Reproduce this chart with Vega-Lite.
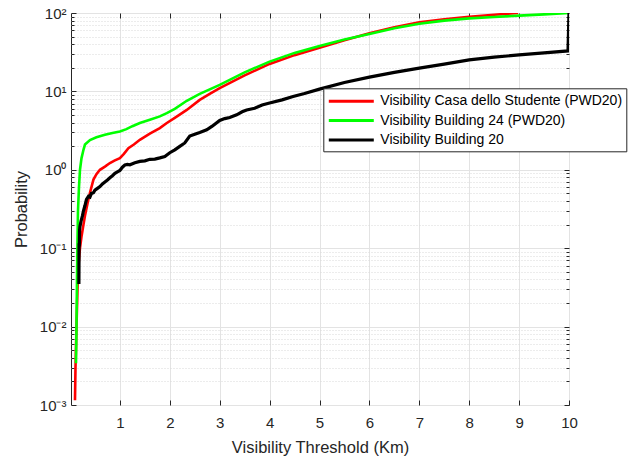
{
  "$schema": "https://vega.github.io/schema/vega-lite/v6.json",
  "width": 498,
  "height": 392,
  "autosize": {"type": "none"},
  "padding": {"left": 71, "top": 13, "right": 70, "bottom": 52},
  "background": "white",
  "config": {
    "font": "Liberation Sans",
    "view": {"stroke": "#262626", "strokeWidth": 1},
    "axis": {
      "domain": false,
      "labelColor": "#262626",
      "titleColor": "#262626",
      "tickColor": "#262626",
      "labelFont": "Liberation Sans",
      "titleFont": "Liberation Sans",
      "titleFontWeight": "normal",
      "labelFontSize": 15,
      "titleFontSize": 16.5
    },
    "legend": {
      "orient": "none",
      "legendX": 252.3,
      "legendY": 75.3,
      "strokeColor": "#262626",
      "fillColor": "white",
      "padding": 4,
      "symbolType": "M-1,0H5",
      "symbolSize": 225,
      "symbolStrokeWidth": 3,
      "symbolFillColor": "transparent",
      "labelFontSize": 14,
      "labelFont": "Liberation Sans",
      "labelColor": "#000000",
      "labelOffset": 35,
      "rowPadding": 3.3,
      "labelLimit": 400,
      "title": null
    }
  },
  "data": {
    "values": [
      {"s": "Visibility Casa dello Studente (PWD20)", "x": 0.10, "y": 0.00115},
      {"s": "Visibility Casa dello Studente (PWD20)", "x": 0.11, "y": 0.003},
      {"s": "Visibility Casa dello Studente (PWD20)", "x": 0.13, "y": 0.01},
      {"s": "Visibility Casa dello Studente (PWD20)", "x": 0.15, "y": 0.03},
      {"s": "Visibility Casa dello Studente (PWD20)", "x": 0.17, "y": 0.06},
      {"s": "Visibility Casa dello Studente (PWD20)", "x": 0.2, "y": 0.1},
      {"s": "Visibility Casa dello Studente (PWD20)", "x": 0.23, "y": 0.14},
      {"s": "Visibility Casa dello Studente (PWD20)", "x": 0.27, "y": 0.2},
      {"s": "Visibility Casa dello Studente (PWD20)", "x": 0.3, "y": 0.26},
      {"s": "Visibility Casa dello Studente (PWD20)", "x": 0.35, "y": 0.37},
      {"s": "Visibility Casa dello Studente (PWD20)", "x": 0.4, "y": 0.51},
      {"s": "Visibility Casa dello Studente (PWD20)", "x": 0.47, "y": 0.75},
      {"s": "Visibility Casa dello Studente (PWD20)", "x": 0.53, "y": 0.88},
      {"s": "Visibility Casa dello Studente (PWD20)", "x": 0.6, "y": 1.0},
      {"s": "Visibility Casa dello Studente (PWD20)", "x": 0.7, "y": 1.1},
      {"s": "Visibility Casa dello Studente (PWD20)", "x": 0.8, "y": 1.22},
      {"s": "Visibility Casa dello Studente (PWD20)", "x": 0.9, "y": 1.32},
      {"s": "Visibility Casa dello Studente (PWD20)", "x": 1.0, "y": 1.41},
      {"s": "Visibility Casa dello Studente (PWD20)", "x": 1.08, "y": 1.6},
      {"s": "Visibility Casa dello Studente (PWD20)", "x": 1.17, "y": 1.89},
      {"s": "Visibility Casa dello Studente (PWD20)", "x": 1.28, "y": 2.1},
      {"s": "Visibility Casa dello Studente (PWD20)", "x": 1.4, "y": 2.41},
      {"s": "Visibility Casa dello Studente (PWD20)", "x": 1.6, "y": 2.9},
      {"s": "Visibility Casa dello Studente (PWD20)", "x": 1.8, "y": 3.4},
      {"s": "Visibility Casa dello Studente (PWD20)", "x": 1.94, "y": 3.95},
      {"s": "Visibility Casa dello Studente (PWD20)", "x": 2.1, "y": 4.6},
      {"s": "Visibility Casa dello Studente (PWD20)", "x": 2.34, "y": 5.8},
      {"s": "Visibility Casa dello Studente (PWD20)", "x": 2.6, "y": 7.8},
      {"s": "Visibility Casa dello Studente (PWD20)", "x": 2.8, "y": 9.3},
      {"s": "Visibility Casa dello Studente (PWD20)", "x": 3.0, "y": 11},
      {"s": "Visibility Casa dello Studente (PWD20)", "x": 3.5, "y": 16},
      {"s": "Visibility Casa dello Studente (PWD20)", "x": 4.0, "y": 22.4},
      {"s": "Visibility Casa dello Studente (PWD20)", "x": 4.5, "y": 29},
      {"s": "Visibility Casa dello Studente (PWD20)", "x": 5.0, "y": 36},
      {"s": "Visibility Casa dello Studente (PWD20)", "x": 5.5, "y": 45},
      {"s": "Visibility Casa dello Studente (PWD20)", "x": 6.0, "y": 55},
      {"s": "Visibility Casa dello Studente (PWD20)", "x": 6.5, "y": 66},
      {"s": "Visibility Casa dello Studente (PWD20)", "x": 7.0, "y": 76},
      {"s": "Visibility Casa dello Studente (PWD20)", "x": 7.5, "y": 83},
      {"s": "Visibility Casa dello Studente (PWD20)", "x": 8.0, "y": 89.7},
      {"s": "Visibility Casa dello Studente (PWD20)", "x": 8.5, "y": 95},
      {"s": "Visibility Casa dello Studente (PWD20)", "x": 8.98, "y": 100},

      {"s": "Visibility Building 24 (PWD20)", "x": 0.12, "y": 0.0034},
      {"s": "Visibility Building 24 (PWD20)", "x": 0.13, "y": 0.01},
      {"s": "Visibility Building 24 (PWD20)", "x": 0.14, "y": 0.04},
      {"s": "Visibility Building 24 (PWD20)", "x": 0.15, "y": 0.12},
      {"s": "Visibility Building 24 (PWD20)", "x": 0.16, "y": 0.3},
      {"s": "Visibility Building 24 (PWD20)", "x": 0.18, "y": 0.6},
      {"s": "Visibility Building 24 (PWD20)", "x": 0.2, "y": 1.0},
      {"s": "Visibility Building 24 (PWD20)", "x": 0.23, "y": 1.4},
      {"s": "Visibility Building 24 (PWD20)", "x": 0.27, "y": 1.8},
      {"s": "Visibility Building 24 (PWD20)", "x": 0.3, "y": 2.1},
      {"s": "Visibility Building 24 (PWD20)", "x": 0.4, "y": 2.4},
      {"s": "Visibility Building 24 (PWD20)", "x": 0.53, "y": 2.6},
      {"s": "Visibility Building 24 (PWD20)", "x": 0.7, "y": 2.8},
      {"s": "Visibility Building 24 (PWD20)", "x": 0.85, "y": 2.95},
      {"s": "Visibility Building 24 (PWD20)", "x": 1.0, "y": 3.08},
      {"s": "Visibility Building 24 (PWD20)", "x": 1.13, "y": 3.3},
      {"s": "Visibility Building 24 (PWD20)", "x": 1.25, "y": 3.6},
      {"s": "Visibility Building 24 (PWD20)", "x": 1.4, "y": 3.95},
      {"s": "Visibility Building 24 (PWD20)", "x": 1.6, "y": 4.35},
      {"s": "Visibility Building 24 (PWD20)", "x": 1.8, "y": 4.8},
      {"s": "Visibility Building 24 (PWD20)", "x": 1.94, "y": 5.29},
      {"s": "Visibility Building 24 (PWD20)", "x": 2.1, "y": 6.0},
      {"s": "Visibility Building 24 (PWD20)", "x": 2.34, "y": 7.6},
      {"s": "Visibility Building 24 (PWD20)", "x": 2.6, "y": 9.3},
      {"s": "Visibility Building 24 (PWD20)", "x": 3.0, "y": 12.1},
      {"s": "Visibility Building 24 (PWD20)", "x": 3.5, "y": 17.5},
      {"s": "Visibility Building 24 (PWD20)", "x": 4.0, "y": 24},
      {"s": "Visibility Building 24 (PWD20)", "x": 4.5, "y": 31},
      {"s": "Visibility Building 24 (PWD20)", "x": 5.0, "y": 38},
      {"s": "Visibility Building 24 (PWD20)", "x": 5.5, "y": 46},
      {"s": "Visibility Building 24 (PWD20)", "x": 6.0, "y": 54},
      {"s": "Visibility Building 24 (PWD20)", "x": 6.5, "y": 64},
      {"s": "Visibility Building 24 (PWD20)", "x": 7.0, "y": 73},
      {"s": "Visibility Building 24 (PWD20)", "x": 7.5, "y": 80},
      {"s": "Visibility Building 24 (PWD20)", "x": 8.0, "y": 85.5},
      {"s": "Visibility Building 24 (PWD20)", "x": 8.5, "y": 89},
      {"s": "Visibility Building 24 (PWD20)", "x": 9.0, "y": 92.5},
      {"s": "Visibility Building 24 (PWD20)", "x": 9.5, "y": 96},
      {"s": "Visibility Building 24 (PWD20)", "x": 10.0, "y": 100},

      {"s": "Visibility Building 20", "x": 0.178, "y": 0.035},
      {"s": "Visibility Building 20", "x": 0.182, "y": 0.11},
      {"s": "Visibility Building 20", "x": 0.188, "y": 0.11},
      {"s": "Visibility Building 20", "x": 0.192, "y": 0.17},
      {"s": "Visibility Building 20", "x": 0.2, "y": 0.19},
      {"s": "Visibility Building 20", "x": 0.22, "y": 0.22},
      {"s": "Visibility Building 20", "x": 0.25, "y": 0.26},
      {"s": "Visibility Building 20", "x": 0.27, "y": 0.3},
      {"s": "Visibility Building 20", "x": 0.3, "y": 0.35},
      {"s": "Visibility Building 20", "x": 0.33, "y": 0.42},
      {"s": "Visibility Building 20", "x": 0.37, "y": 0.46},
      {"s": "Visibility Building 20", "x": 0.4, "y": 0.45},
      {"s": "Visibility Building 20", "x": 0.43, "y": 0.5},
      {"s": "Visibility Building 20", "x": 0.47, "y": 0.51},
      {"s": "Visibility Building 20", "x": 0.5, "y": 0.55},
      {"s": "Visibility Building 20", "x": 0.55, "y": 0.58},
      {"s": "Visibility Building 20", "x": 0.6, "y": 0.61},
      {"s": "Visibility Building 20", "x": 0.65, "y": 0.66},
      {"s": "Visibility Building 20", "x": 0.7, "y": 0.7},
      {"s": "Visibility Building 20", "x": 0.75, "y": 0.74},
      {"s": "Visibility Building 20", "x": 0.8, "y": 0.79},
      {"s": "Visibility Building 20", "x": 0.85, "y": 0.84},
      {"s": "Visibility Building 20", "x": 0.9, "y": 0.9},
      {"s": "Visibility Building 20", "x": 0.95, "y": 0.94},
      {"s": "Visibility Building 20", "x": 1.0, "y": 0.98},
      {"s": "Visibility Building 20", "x": 1.05, "y": 1.08},
      {"s": "Visibility Building 20", "x": 1.1, "y": 1.15},
      {"s": "Visibility Building 20", "x": 1.15, "y": 1.17},
      {"s": "Visibility Building 20", "x": 1.2, "y": 1.16},
      {"s": "Visibility Building 20", "x": 1.3, "y": 1.23},
      {"s": "Visibility Building 20", "x": 1.4, "y": 1.28},
      {"s": "Visibility Building 20", "x": 1.5, "y": 1.3},
      {"s": "Visibility Building 20", "x": 1.6, "y": 1.36},
      {"s": "Visibility Building 20", "x": 1.7, "y": 1.37},
      {"s": "Visibility Building 20", "x": 1.8, "y": 1.42},
      {"s": "Visibility Building 20", "x": 1.9, "y": 1.48},
      {"s": "Visibility Building 20", "x": 2.0, "y": 1.65},
      {"s": "Visibility Building 20", "x": 2.1, "y": 1.8},
      {"s": "Visibility Building 20", "x": 2.2, "y": 1.99},
      {"s": "Visibility Building 20", "x": 2.3, "y": 2.2},
      {"s": "Visibility Building 20", "x": 2.4, "y": 2.7},
      {"s": "Visibility Building 20", "x": 2.5, "y": 2.85},
      {"s": "Visibility Building 20", "x": 2.6, "y": 3.0},
      {"s": "Visibility Building 20", "x": 2.74, "y": 3.24},
      {"s": "Visibility Building 20", "x": 2.85, "y": 3.6},
      {"s": "Visibility Building 20", "x": 3.0, "y": 4.25},
      {"s": "Visibility Building 20", "x": 3.1, "y": 4.5},
      {"s": "Visibility Building 20", "x": 3.2, "y": 4.65},
      {"s": "Visibility Building 20", "x": 3.34, "y": 5.03},
      {"s": "Visibility Building 20", "x": 3.45, "y": 5.5},
      {"s": "Visibility Building 20", "x": 3.54, "y": 5.8},
      {"s": "Visibility Building 20", "x": 3.7, "y": 6.1},
      {"s": "Visibility Building 20", "x": 3.85, "y": 6.7},
      {"s": "Visibility Building 20", "x": 4.0, "y": 7.1},
      {"s": "Visibility Building 20", "x": 4.25, "y": 7.8},
      {"s": "Visibility Building 20", "x": 4.47, "y": 8.6},
      {"s": "Visibility Building 20", "x": 4.7, "y": 9.4},
      {"s": "Visibility Building 20", "x": 5.0, "y": 10.7},
      {"s": "Visibility Building 20", "x": 5.5, "y": 13},
      {"s": "Visibility Building 20", "x": 6.0, "y": 15.2},
      {"s": "Visibility Building 20", "x": 6.5, "y": 17.5},
      {"s": "Visibility Building 20", "x": 7.0, "y": 19.8},
      {"s": "Visibility Building 20", "x": 7.5, "y": 22.3},
      {"s": "Visibility Building 20", "x": 8.0, "y": 25.2},
      {"s": "Visibility Building 20", "x": 8.5, "y": 27.3},
      {"s": "Visibility Building 20", "x": 9.0, "y": 29.2},
      {"s": "Visibility Building 20", "x": 9.5, "y": 31},
      {"s": "Visibility Building 20", "x": 9.98, "y": 32.8},
      {"s": "Visibility Building 20", "x": 10.0, "y": 100}
    ]
  },
  "layer": [
    {
      "transform": [{"filter": "datum.s == 'Visibility Casa dello Studente (PWD20)'"}],
      "mark": {"type": "line", "strokeWidth": 2.6, "clip": true},
      "encoding": {
        "x": {
          "field": "x", "type": "quantitative",
          "scale": {"domain": [0.02, 10], "nice": false, "zero": false},
          "axis": {
            "orient": "bottom",
            "values": [1, 2, 3, 4, 5, 6, 7, 8, 9, 10],
            "title": "Visibility Threshold (Km)",
            "grid": true,
            "gridColor": "#e3e3e3",
            "tickSize": -5,
            "labelPadding": 15,
            "labelFlush": false,
            "labelOverlap": false,
            "titlePadding": 9
          }
        },
        "y": {
          "field": "y", "type": "quantitative",
          "scale": {"type": "log", "domain": [0.001, 100], "nice": false},
          "axis": {
            "orient": "left",
            "title": "Probability",
            "values": [0.001, 0.002, 0.003, 0.004, 0.005, 0.006, 0.007, 0.008, 0.009, 0.01, 0.02, 0.03, 0.04, 0.05, 0.06, 0.07, 0.08, 0.09, 0.1, 0.2, 0.3, 0.4, 0.5, 0.6, 0.7, 0.8, 0.9, 1, 2, 3, 4, 5, 6, 7, 8, 9, 10, 20, 30, 40, 50, 60, 70, 80, 90, 100],
            "labelExpr": "datum.value==100?'10²':datum.value==10?'10¹':datum.value==1?'10⁰':datum.value==0.1?'10⁻¹':datum.value==0.01?'10⁻²':datum.value==0.001?'10⁻³':''",
            "labelOverlap": false,
            "labelFlush": false,
            "grid": true,
            "gridColor": {"condition": {"test": "abs(log(datum.value)/LN10 - round(log(datum.value)/LN10)) < 0.001", "value": "#e3e3e3"}, "value": "#d9d9d9"},
            "gridDash": {"condition": {"test": "abs(log(datum.value)/LN10 - round(log(datum.value)/LN10)) < 0.001", "value": []}, "value": [1, 2]},
            "tickSize": {"condition": {"test": "abs(log(datum.value)/LN10 - round(log(datum.value)/LN10)) < 0.001", "value": -5}, "value": -3},
            "labelPadding": 10,
            "titlePadding": 10
          }
        },
        "color": {
          "field": "s", "type": "nominal",
          "scale": {
            "domain": ["Visibility Casa dello Studente (PWD20)", "Visibility Building 24 (PWD20)", "Visibility Building 20"],
            "range": ["#ff0000", "#00ff00", "#000000"]
          },
          "legend": {}
        }
      }
    },
    {
      "transform": [{"filter": "datum.s == 'Visibility Building 24 (PWD20)'"}],
      "mark": {"type": "line", "strokeWidth": 2.6, "clip": true},
      "encoding": {
        "x": {"field": "x", "type": "quantitative", "axis": null},
        "y": {"field": "y", "type": "quantitative", "scale": {"type": "log"}, "axis": null},
        "color": {"field": "s", "type": "nominal"}
      }
    },
    {
      "transform": [{"filter": "datum.s == 'Visibility Building 20'"}],
      "mark": {"type": "line", "strokeWidth": 3.2, "clip": true},
      "encoding": {
        "x": {
          "field": "x", "type": "quantitative",
          "axis": {"orient": "top", "values": [1, 2, 3, 4, 5, 6, 7, 8, 9], "labels": false, "grid": false, "title": null, "tickSize": -5}
        },
        "y": {
          "field": "y", "type": "quantitative", "scale": {"type": "log"},
          "axis": {
            "orient": "right",
            "values": [0.001, 0.002, 0.003, 0.004, 0.005, 0.006, 0.007, 0.008, 0.009, 0.01, 0.02, 0.03, 0.04, 0.05, 0.06, 0.07, 0.08, 0.09, 0.1, 0.2, 0.3, 0.4, 0.5, 0.6, 0.7, 0.8, 0.9, 1, 2, 3, 4, 5, 6, 7, 8, 9, 10, 20, 30, 40, 50, 60, 70, 80, 90, 100],
            "labels": false, "grid": false, "title": null,
            "tickSize": {"condition": {"test": "abs(log(datum.value)/LN10 - round(log(datum.value)/LN10)) < 0.001", "value": -5}, "value": -3}
          }
        },
        "color": {"field": "s", "type": "nominal"}
      }
    }
  ],
  "resolve": {"axis": {"x": "independent", "y": "independent"}}
}
